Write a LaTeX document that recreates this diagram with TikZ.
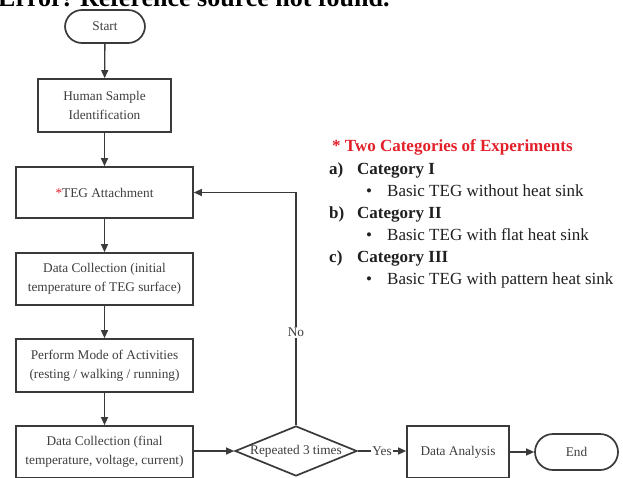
\documentclass[tikz,border=0pt]{standalone}
\usepackage{fontspec}
\setmainfont{Liberation Serif}
\usetikzlibrary{shapes.geometric,arrows.meta}
\definecolor{linec}{HTML}{3A3A3A}
\definecolor{txtc}{HTML}{3E3E3E}
\definecolor{redc}{HTML}{E3202A}
\begin{document}
\begin{tikzpicture}[x=1pt,y=-1pt,
  box/.style={draw=linec,line width=1.7pt,fill=white,text=txtc,align=center,
    font=\fontsize{13.3}{19}\selectfont,inner sep=0pt},
  term/.style={box,rounded corners=17pt},
  decision/.style={draw=linec,line width=1.7pt,fill=white,diamond,inner sep=0pt,
    minimum width=122pt,minimum height=50pt},
  flow/.style={draw=linec,line width=1.3pt,-{Triangle[length=8pt,width=7pt]}},
  lbl/.style={fill=white,text=txtc,font=\fontsize{13.3}{16}\selectfont,inner sep=1pt},
  list/.style={anchor=base west,inner sep=0pt,text=black!88,font=\fontsize{17}{20}\selectfont},
  listb/.style={list,font=\fontsize{17}{20}\selectfont\bfseries}]
\useasboundingbox (0,0) rectangle (623,477);
\clip (0,0) rectangle (623,477);
\node[anchor=base west,inner sep=0pt,font=\fontsize{26}{30}\selectfont\bfseries] (err) at (-2,6) {Error! Reference source not found.};
% flowchart
\node[term,minimum width=80pt,minimum height=33pt] (start) at (105,26.5) {Start};
\node[box,minimum width=133pt,minimum height=53pt] (human) at (104.5,105.5) {Human Sample\\Identification};
\node[box,minimum width=177pt,minimum height=51pt] (teg) at (104.5,192.5) {\textcolor{redc}{*}TEG Attachment};
\node[box,minimum width=177pt,minimum height=52pt] (dc1) at (104.5,279) {Data Collection (initial\\temperature of TEG surface)};
\node[box,minimum width=177pt,minimum height=53pt] (perf) at (104.5,365.5) {Perform Mode of Activities\\(resting / walking / running)};
\node[box,minimum width=177pt,minimum height=52pt] (dc2) at (104.5,452) {Data Collection (final\\temperature, voltage, current)};
\node[decision] (dec) at (296,451) {};
\node[text=txtc,font=\fontsize{13.3}{16}\selectfont,inner sep=0pt] (dect) at (dec.center) {Repeated 3 times};
\node[box,minimum width=102pt,minimum height=52pt] (da) at (458,452) {Data Analysis};
\node[term,rounded corners=18pt,minimum width=83pt,minimum height=36pt] (end) at (576.5,452) {End};
\draw[flow] (start) -- (human);
\draw[flow] (human) -- (teg);
\draw[flow] (teg) -- (dc1);
\draw[flow] (dc1) -- (perf);
\draw[flow] (perf) -- (dc2);
\draw[flow] (dc2.east |- dec.west) -- (dec.west);
\draw[flow] (dec.east) -- node[lbl] {Yes} (da.west |- dec.east);
\draw[flow] (da.east) -- (end.west);
\draw[flow] (dec.north) |- node[lbl,pos=0.2] {No} (teg.east);
% legend
\node[listb,text=redc] (title) at (332,151) {* Two Categories of Experiments};
\node[listb] (la) at (329,174) {a)};
\node[listb] (ca) at (357,174) {Category I};
\node[list] (ba) at (366,196) {•};
\node[list] (ta) at (387,196) {Basic TEG without heat sink};
\node[listb] (lb) at (329,218) {b)};
\node[listb] (cb) at (357,218) {Category II};
\node[list] (bb) at (366,240) {•};
\node[list] (tb) at (387,240) {Basic TEG with flat heat sink};
\node[listb] (lc) at (329,262) {c)};
\node[listb] (cc) at (357,262) {Category III};
\node[list] (bc) at (366,284) {•};
\node[list] (tc) at (387,284) {Basic TEG with pattern heat sink};
\end{tikzpicture}
\end{document}
